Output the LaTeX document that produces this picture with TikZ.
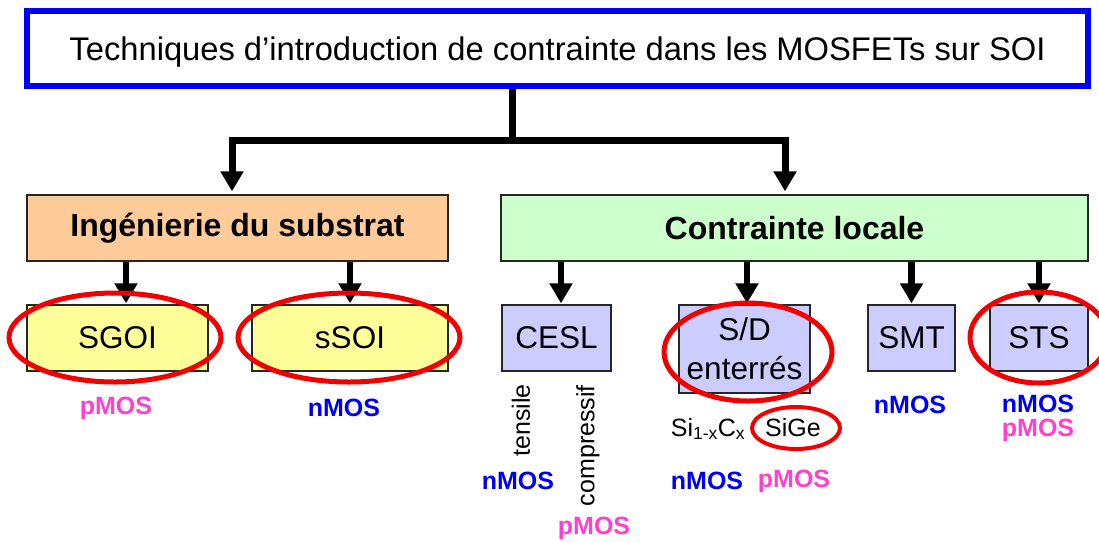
\documentclass[tikz,border=0pt]{standalone}
\usepackage{fontspec}
\setmainfont{Liberation Sans}
\usetikzlibrary{arrows.meta,calc}
\definecolor{topblue}{RGB}{0,0,255}
\definecolor{orfill}{RGB}{255,204,153}
\definecolor{grfill}{RGB}{204,255,204}
\definecolor{vifill}{RGB}{204,204,255}
\definecolor{yefill}{RGB}{255,255,153}
\definecolor{nblue}{RGB}{0,0,240}
\definecolor{pmag}{RGB}{255,64,204}
\definecolor{ovred}{RGB}{240,0,0}
\tikzset{
  box/.style={draw=black!85, line width=1.3pt, inner sep=0pt, align=center},
  fs/.style={font=\fontsize{#1}{38}\selectfont},
  arr/.style={line width=6.5pt, -{Triangle[width=22pt,length=20pt]}},
  bar/.style={line width=7pt},
  redov/.style={draw=ovred, line width=5pt},
  nlab/.style={text=nblue, font=\fontsize{25}{28}\selectfont\bfseries, inner sep=0pt},
  plab/.style={text=pmag, font=\fontsize{25}{28}\selectfont\bfseries, inner sep=0pt},
  small/.style={font=\fontsize{25}{28}\selectfont, inner sep=0pt},
}
\begin{document}
\begin{tikzpicture}[x=1pt,y=-1pt]
\clip (0,0) rectangle (1099,542);
\fill[white] (0,0) rectangle (1099,542);

% top box
\node[draw=topblue, line width=6pt, minimum width=1061pt, minimum height=75pt, inner sep=0pt,
      text depth=0pt, font=\fontsize{32.7}{38}\selectfont] (top) at (557.5,48.5)
  {Techniques d’introduction de contrainte dans les MOSFETs sur SOI};

% second level
\node[box, fill=orfill, minimum width=421pt, minimum height=66pt, font=\fontsize{32}{38}\selectfont\bfseries]
  (sub) at (237.5,228) {Ingénierie du substrat};
\node[box, fill=grfill, minimum width=587pt, minimum height=66pt, font=\fontsize{32}{38}\selectfont\bfseries]
  (loc) at (794.5,228) {Contrainte locale};

% third level
\node[box, fill=yefill, minimum width=181pt, minimum height=66pt, fs=31.5] (sgoi) at (117.5,338) {SGOI};
\node[box, fill=yefill, minimum width=196pt, minimum height=66pt, fs=31.5] (ssoi) at (350,338) {sSOI};
\node[box, fill=vifill, minimum width=109pt, minimum height=66pt, fs=31.5] (cesl) at (556.5,338) {CESL};
\node[box, fill=vifill, minimum width=131pt, minimum height=88pt, fs=31.5] (sd) at (744.5,349)
  {S/D\\[1pt]enterrés};
\node[box, fill=vifill, minimum width=87pt, minimum height=66pt, fs=31.5] (smt) at (911.5,338) {SMT};
\node[box, fill=vifill, minimum width=98pt, minimum height=66pt, fs=31.5] (sts) at (1039,338) {STS};

% top connectors
\coordinate (j) at (512,140.5);
\draw[bar] ([xshift=-45.5pt]top.south) -- (j);
\draw[arr, line width=7pt, shorten >=3pt] (j) -| ([xshift=-5.5pt]sub.north);
\draw[arr, line width=7pt, shorten >=3pt] (j) -| ([xshift=-9.5pt]loc.north);

% lower connectors
\draw[arr, shorten >=1pt] ([xshift=8.5pt]sgoi.north |- sub.south) -- ([xshift=8.5pt]sgoi.north);
\draw[arr, shorten >=1pt] (ssoi.north |- sub.south) -- (ssoi.north);
\draw[arr, shorten >=1pt] ([xshift=4.5pt]cesl.north |- loc.south) -- ([xshift=4.5pt]cesl.north);
\draw[arr, shorten >=1pt] ([xshift=2.5pt]sd.north |- loc.south) -- ([xshift=2.5pt]sd.north);
\draw[arr, shorten >=1pt] (smt.north |- loc.south) -- (smt.north);
\draw[arr, shorten >=1pt] (sts.north |- loc.south) -- (sts.north);

% labels
\node[plab] (l1) at (116,408) {pMOS};
\node[nlab] (l2) at (344,408) {nMOS};
\node[small, rotate=90, anchor=east] (ten) at (521,384) {tensile};
\node[small, rotate=90, anchor=east] (comp) at (588,385) {compressif};
\node[nlab] (l3) at (518,481) {nMOS};
\node[plab] (l4) at (594,528) {pMOS};
\node[small] (sic) at (708,429) {Si\textsubscript{1-x}C\textsubscript{x}};
\node[small] (sige) at (793,428) {SiGe};
\node[nlab] (l5) at (707,481) {nMOS};
\node[plab] (l6) at (794,481) {pMOS};
\node[nlab] (l7) at (910,405) {nMOS};
\node[nlab] (l8) at (1038,404) {nMOS};
\node[plab] (l9) at (1038,430) {pMOS};

% red ellipses
\draw[redov] (115,337.5) ellipse [x radius=106, y radius=44.5];
\draw[redov] (349,337.5) ellipse [x radius=111, y radius=44.5];
\draw[redov] (748,352) ellipse [x radius=84, y radius=49];
\draw[redov] (1039,337.5) ellipse [x radius=69, y radius=45.5];
\draw[redov, line width=4pt] (796,428) ellipse [x radius=44, y radius=21];
\end{tikzpicture}
\end{document}
